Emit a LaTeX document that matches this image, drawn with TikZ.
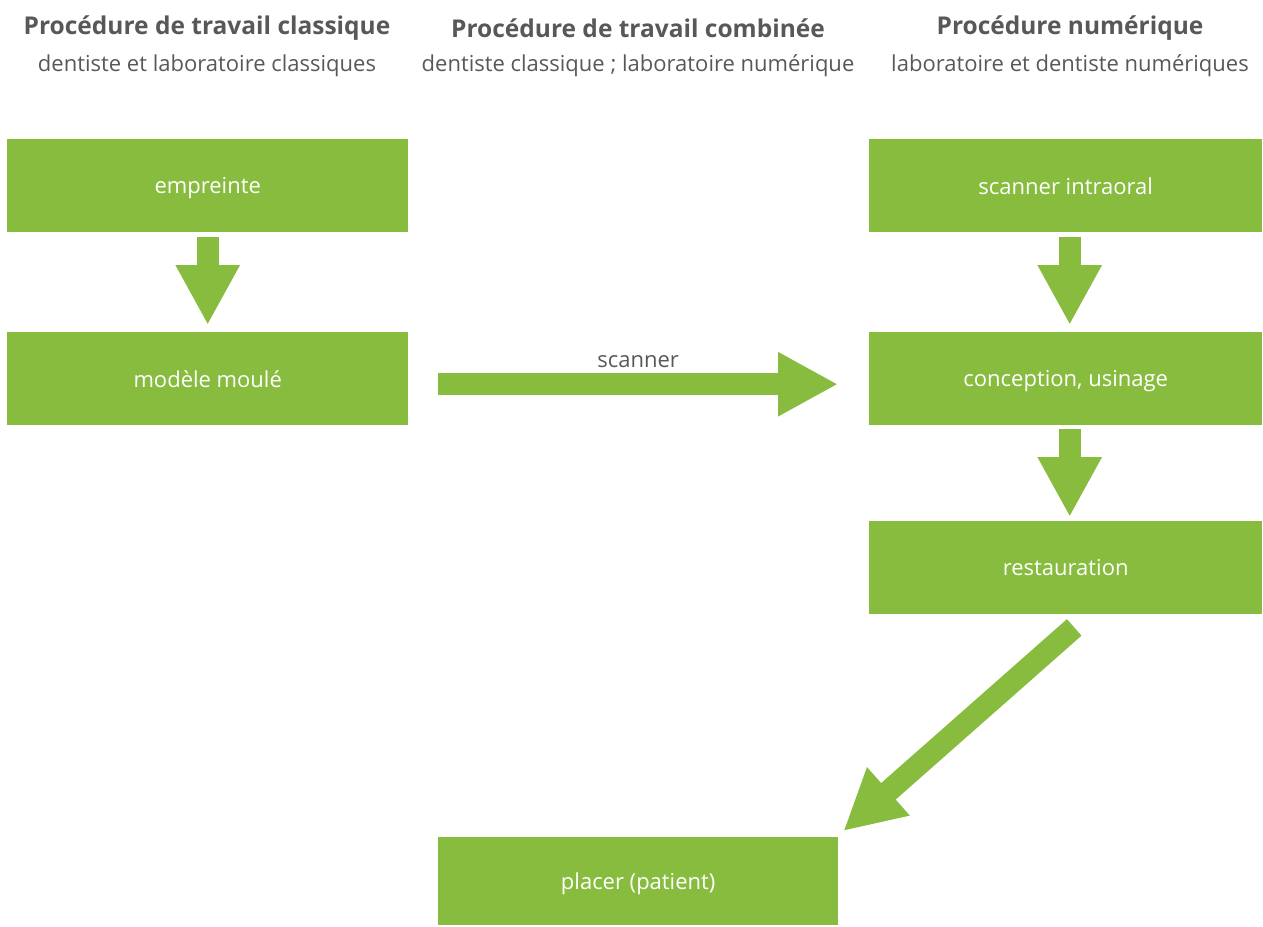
\documentclass[tikz,border=0pt]{standalone}
\usepackage{fontspec}
\setmainfont{Open Sans}
\usetikzlibrary{arrows.meta}
\definecolor{vert}{HTML}{87BC3E}
\definecolor{gris}{HTML}{585858}
\begin{document}
\begin{tikzpicture}[x=1pt,y=-1pt,
  box/.style={fill=vert,text=white,inner sep=0pt,anchor=north west,text depth=0pt,font=\fontsize{22}{26}\selectfont},
  title/.style={text=gris,inner sep=0pt,font=\bfseries\fontsize{24.5}{29}\selectfont},
  sub/.style={text=gris,inner sep=0pt,font=\fontsize{22}{26}\selectfont},
  flow/.style={draw=vert,line width=22pt,-{Triangle[width=60pt,length=60pt]}}]
\useasboundingbox (0,0) rectangle (1263,926);
% headings
\node[title] (t1) at (207,28) {Procédure de travail classique};
\node[sub]   (s1) at (207,66) {dentiste et laboratoire classiques};
\node[title] (t2) at (638,28) {Procédure de travail combinée};
\node[sub]   (s2) at (638,66) {dentiste classique ; laboratoire numérique};
\node[title] (t3) at (1070,28) {Procédure numérique};
\node[sub]   (s3) at (1070,66) {laboratoire et dentiste numériques};
% boxes
\node[box,minimum width=401pt,minimum height=93pt] (e) at (7,139) {empreinte};
\node[box,minimum width=401pt,minimum height=93pt] (m) at (7,332) {modèle moulé};
\node[box,minimum width=393pt,minimum height=93pt] (si) at (869,139) {scanner intraoral};
\node[box,minimum width=393pt,minimum height=93pt] (c) at (869,332) {conception, usinage};
\node[box,minimum width=393pt,minimum height=93pt] (r) at (869,521) {restauration};
\node[box,minimum width=400pt,minimum height=88pt] (p) at (438,837) {placer (patient)};
% arrows
\draw[flow] ([yshift=-5pt]e.south) -- ([yshift=7pt]m.north);
\draw[flow] ([shift={(4pt,-5pt)}]si.south) -- ([shift={(4pt,7pt)}]c.north);
\draw[flow] ([shift={(4pt,-4pt)}]c.south) -- ([shift={(4pt,4pt)}]r.north);
\draw[flow] ([shift={(30pt,-5.5pt)}]m.east) -- ([shift={(-31pt,-5.5pt)}]c.west)
  node[pos=0.5,above=5pt,text=gris,inner sep=0pt,font=\fontsize{22}{26}\selectfont] (lab) {scanner};
\draw[flow] ([shift={(8.5pt,-13pt)}]r.south) -- ([shift={(5pt,6pt)}]p.north east);
\end{tikzpicture}
\end{document}
